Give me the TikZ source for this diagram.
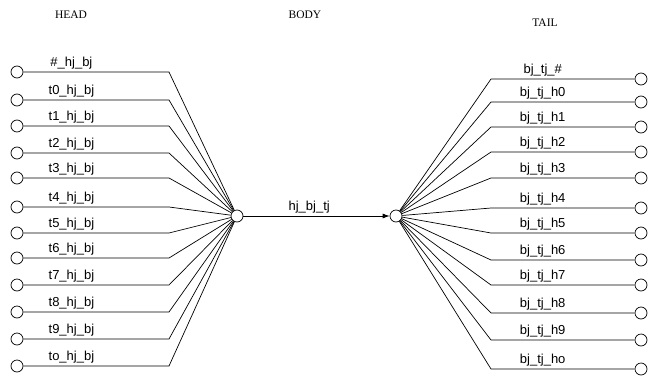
\documentclass[tikz,border=0pt]{standalone}
\usepackage{fontspec}
\setmainfont{Liberation Sans}
\newfontfamily\titlefont{Liberation Serif}
\usetikzlibrary{arrows.meta}
\begin{document}
\begin{tikzpicture}
[x=1pt, y=-1pt, line width=0.7pt,
ar/.style={-{Latex[length=7pt,width=5pt]}},
port/.style={
  circle, draw, fill=white, inner sep=0pt,
  minimum size=12pt
  },
lbl/.style={font=\fontsize{13}{15}\selectfont, inner sep=2pt}
]

\tikzstyle{title}  =  [font=\titlefont\fontsize{11.5}{14}\selectfont]

\useasboundingbox (0,0) rectangle (648,375);

\node[title] (head) at (71,15) {HEAD};
\node[title] (body) at (305,15) {BODY};
\node[title] (tail) at (545,23) {TAIL};

% body
\node[port] (hb) at (237,216) {};
\node[port] (tb) at (396,216) {};
\draw[ar] (hb) -- node[lbl, above, pos=0.45] {hj\_bj\_tj} (tb);

% head
\foreach \y/\t [count=\i] in {72/\#, 100/t0, 126/t1, 153/t2, 178/t3, 207/t4,
                              233/t5, 258/t6, 285/t7, 312/t8, 339/t9, 366/to} {
  \node[port] (h\i) at (17,\y) {};
  \coordinate (hx\i) at (169,\y);
  \draw (h\i) -- node[lbl, above, pos=0.33] {\t\_hj\_bj} (hx\i) -- (hb);
}

% tail
\foreach \y/\t [count=\i] in {79/\#, 102/h0, 127/h1, 152/h2, 178/h3, 208/h4,
                              233/h5, 260/h6, 285/h7, 313/h8, 340/h9, 369/ho} {
  \node[port] (t\i) at (641,\y) {};
  \coordinate (tx\i) at (491,\y);
  \draw (tb) -- (tx\i) -- node[lbl, above, pos=0.36] {bj\_tj\_\t} (t\i);
}

\end{tikzpicture}
\end{document}
